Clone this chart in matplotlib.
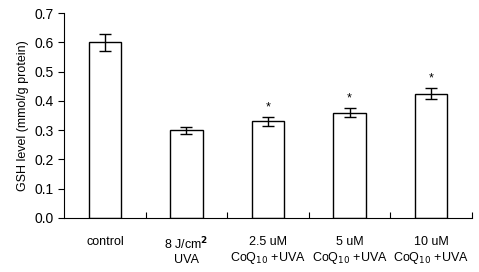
import numpy as np
import matplotlib.pyplot as plt

plt.rcParams['font.family'] = ['Liberation Sans', 'DejaVu Sans']

labels = ["control", "8 J/cm$^{\\mathbf{2}}$\nUVA", "2.5 uM\nCoQ$_{10}$ +UVA",
          "5 uM\nCoQ$_{10}$ +UVA", "10 uM\nCoQ$_{10}$ +UVA"]
values = [0.60, 0.30, 0.33, 0.36, 0.425]
errors = [0.030, 0.012, 0.016, 0.016, 0.020]
stars = [False, False, True, True, True]

fig = plt.figure(figsize=(4.79, 2.72), dpi=100)
ax = fig.add_axes([0.134, 0.199, 0.851, 0.753])

x = np.arange(len(values))
ax.bar(x, values, width=0.4, color="white", edgecolor="black", linewidth=1.0)
ax.errorbar(x, values, yerr=errors, fmt="none", ecolor="black",
            elinewidth=1.0, capsize=4, capthick=1.0)
for xi, v, e, s in zip(x, values, errors, stars):
    if s:
        ax.text(xi, v + e + 0.012, "*", ha="center", va="bottom", fontsize=9)

ax.set_xlim(-0.5, 4.5)
ax.set_ylim(0, 0.7)
ax.set_yticks(np.arange(0, 0.71, 0.1))
ax.set_yticklabels([f"{t:.1f}" for t in np.arange(0, 0.71, 0.1)], fontsize=10)
ax.set_xticks(np.arange(0.5, 4.6, 1.0))
ax.set_xticklabels([])
ax.set_xticks(x, minor=True)
ax.set_xticklabels(labels, minor=True, fontsize=9)
ax.tick_params(axis="x", which="major", direction="in", length=4)
ax.tick_params(axis="x", which="minor", length=0, pad=13)
ax.tick_params(axis="y", direction="out", length=4)
ax.set_ylabel("GSH level (mmol/g protein)", fontsize=9)
ax.spines["top"].set_visible(False)
ax.spines["right"].set_visible(False)

fig.savefig("out.png", dpi=100)
